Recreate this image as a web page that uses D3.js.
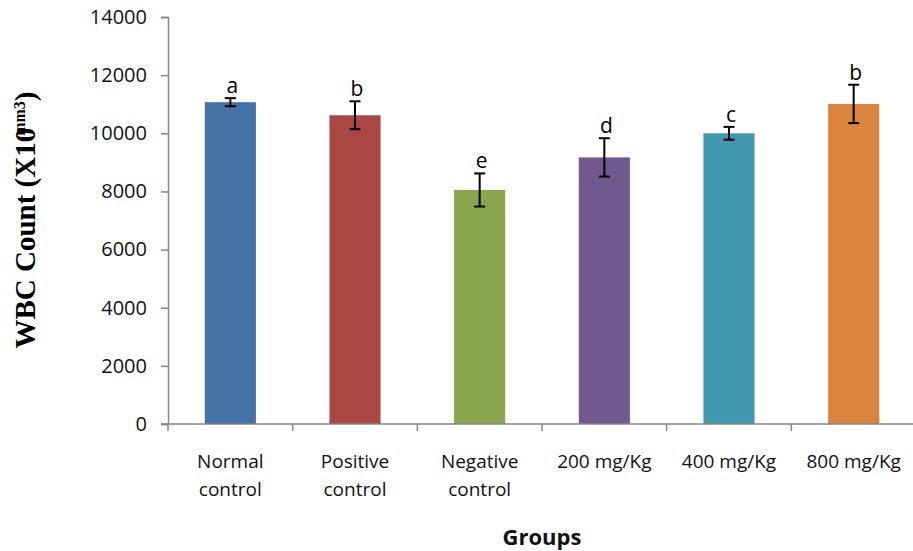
<!DOCTYPE html>
<html>
<head>
<meta charset="utf-8">
<script src="https://cdn.jsdelivr.net/npm/d3@7"></script>
<style>
  body { margin: 0; background: #fff; }
  svg { display: block; }
</style>
</head>
<body>
<div id="chart"></div>
<script>
// values
var groups = ["Normal control", "Positive control", "Negative control", "200 mg/Kg", "400 mg/Kg", "800 mg/Kg"];
var wbc = [11070, 10620, 8050, 9170, 10000, 11010];
var sem = [140, 480, 570, 660, 220, 660];
var letters = ["a", "b", "e", "d", "c", "b"];
var yTicks = [0, 2000, 4000, 6000, 8000, 10000, 12000, 14000];
var colors = ["#4572A7", "#AA4643", "#89A54E", "#71588F", "#4198AF", "#DB843D"];

var width = 913, height = 551;
var margin = {top: 17, left: 168, bottom: 127};

var svg = d3.select("#chart").append("svg")
    .attr("width", width)
    .attr("height", height);

// scales
var x = d3.scaleBand().domain(groups).range([margin.left, 916]).padding(0);
var y = d3.scaleLinear().domain([0, 14000]).range([height - margin.bottom, margin.top]);
var barW = x.bandwidth() * 0.41;

var data = groups.map(function(g, i) {
    return {group: g, value: wbc[i], err: sem[i], letter: letters[i], color: colors[i]};
});

// bars
svg.append("g").selectAll("rect")
    .data(data)
    .enter().append("rect")
    .attr("x", function(d) { return x(d.group) + (x.bandwidth() - barW) / 2; })
    .attr("y", function(d) { return y(d.value); })
    .attr("width", barW)
    .attr("height", function(d) { return y(0) - y(d.value); })
    .attr("fill", function(d) { return d.color; });

// error bars
var eb = svg.append("g").attr("stroke", "#000").attr("stroke-width", 2);
data.forEach(function(d) {
    var cx = x(d.group) + x.bandwidth() / 2;
    eb.append("line").attr("x1", cx).attr("x2", cx)
        .attr("y1", y(d.value + d.err)).attr("y2", y(d.value - d.err));
    eb.append("line").attr("x1", cx - 5.5).attr("x2", cx + 5.5)
        .attr("y1", y(d.value + d.err)).attr("y2", y(d.value + d.err));
    eb.append("line").attr("x1", cx - 5.5).attr("x2", cx + 5.5)
        .attr("y1", y(d.value - d.err)).attr("y2", y(d.value - d.err));
});

// significance letters
svg.append("g").selectAll("text")
    .data(data)
    .enter().append("text")
    .attr("x", function(d) { return x(d.group) + x.bandwidth() / 2 + 2; })
    .attr("y", function(d) { return y(d.value + d.err) - 5; })
    .attr("text-anchor", "middle")
    .style("font-family", "'Open Sans', sans-serif")
    .style("font-size", "21px")
    .attr("fill", "#000")
    .text(function(d) { return d.letter; });

// y axis
var yAxis = svg.append("g")
    .attr("transform", "translate(" + margin.left + ",0)")
    .call(d3.axisLeft(y).tickValues(yTicks).tickSize(7).tickPadding(14).tickFormat(d3.format("d")));
yAxis.select(".domain").attr("stroke", "#868686").attr("stroke-width", 1.5);
yAxis.selectAll(".tick line").attr("stroke", "#868686").attr("stroke-width", 1.5);
yAxis.selectAll("text")
    .style("font-family", "'Open Sans', sans-serif")
    .style("font-size", "20px")
    .attr("fill", "#111");

// x axis: ticks on the band boundaries
var xAxis = svg.append("g").attr("transform", "translate(0," + y(0) + ")");
xAxis.append("line")
    .attr("x1", margin.left - 7).attr("x2", 916)
    .attr("stroke", "#868686").attr("stroke-width", 1.5);
xAxis.selectAll(".xtick")
    .data(groups)
    .enter().append("line")
    .attr("class", "xtick")
    .attr("x1", function(d) { return x(d); })
    .attr("x2", function(d) { return x(d); })
    .attr("y1", 0).attr("y2", 7)
    .attr("stroke", "#868686").attr("stroke-width", 1.5);

// category labels, split in two lines for the control groups
var catLabels = svg.append("g").selectAll("text")
    .data(groups)
    .enter().append("text")
    .attr("text-anchor", "middle")
    .style("font-family", "'Open Sans', sans-serif")
    .style("font-size", "19px")
    .attr("fill", "#111");
catLabels.each(function(g) {
    var t = d3.select(this);
    var cx = x(g) + x.bandwidth() / 2;
    var parts = g.indexOf("control") > 0 ? [g.replace(" control", ""), "control"] : [g];
    parts.forEach(function(p, i) {
        t.append("tspan").attr("x", cx).attr("y", 468 + i * 27.5).text(p);
    });
});

// axis titles
svg.append("text")
    .attr("x", 542).attr("y", 545)
    .attr("text-anchor", "middle")
    .style("font-family", "'Open Sans', sans-serif")
    .style("font-size", "22px")
    .style("font-weight", "bold")
    .attr("fill", "#111")
    .text("Groups");

var yTitle = svg.append("text")
    .attr("transform", "translate(35,220) rotate(-90)")
    .attr("text-anchor", "middle")
    .style("font-family", "'Liberation Serif', 'Times New Roman', serif")
    .style("font-size", "29px")
    .style("font-weight", "bold")
    .attr("fill", "#000");
yTitle.append("tspan").text("WBC Count (X10");
yTitle.append("tspan").attr("dx", -8).attr("dy", -10).style("font-size", "16px").text("mm3");
yTitle.append("tspan").attr("dy", 10).text(")");
</script>
</body>
</html>
